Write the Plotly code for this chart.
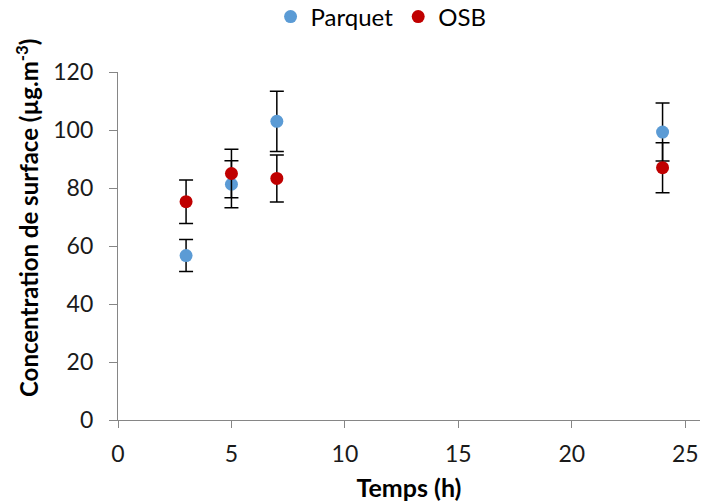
import plotly.graph_objects as go

# Data
temps = [3, 5, 7, 24]
parquet = [56.7, 81.3, 103.0, 99.3]
parquet_err = [5.5, 8.1, 10.4, 10.0]
osb = [75.3, 85.0, 83.3, 87.0]
osb_err = [7.5, 8.4, 8.1, 8.6]

series_names = ["Parquet", "OSB"]
colors = ["#5B9BD5", "#C00000"]

FONT = "Lato"

fig = go.Figure()
for name, vals, errs, col in zip(series_names, [parquet, osb], [parquet_err, osb_err], colors):
    fig.add_trace(go.Scatter(
        x=temps, y=vals, name=name, mode="markers",
        marker=dict(color=col, size=13, line=dict(width=0)),
        error_y=dict(type="data", array=errs, visible=True,
                     color="#000000", thickness=1.5, width=7),
        cliponaxis=False,
    ))

plot_w = 701 - 118 - 1
plot_h = 503 - 72 - 83

fig.update_layout(
    width=701, height=503,
    margin=dict(l=118, r=1, t=72, b=83, autoexpand=False),
    paper_bgcolor="white", plot_bgcolor="white",
    font=dict(family=FONT, size=23, color="#000000"),
    showlegend=True,
    legend=dict(orientation="h", x=0.452, xanchor="center",
                y=(503 - 17) / 503, yref="container", yanchor="middle",
                font=dict(size=24, family=FONT, color="#000000"),
                itemwidth=30, tracegroupgap=0, bgcolor="rgba(0,0,0,0)"),
    xaxis=dict(range=[0, 25.65], tickmode="array", tickvals=[0, 5, 10, 15, 20, 25],
               showgrid=False, zeroline=False, showline=True, linecolor="#868686",
               linewidth=1.3, ticks="outside", ticklen=7, tickcolor="#868686",
               tickwidth=1.3, tickfont=dict(size=23, color="#1a1a1a"),
               ticklabelstandoff=6,
               title=dict(text="<b>Temps (h)</b>", font=dict(size=25), standoff=13)),
    yaxis=dict(range=[0, 120], tickmode="array", tickvals=[0, 20, 40, 60, 80, 100, 120],
               showgrid=False, zeroline=False, showline=True, linecolor="#868686",
               linewidth=1.3, ticks="outside", ticklen=8, tickcolor="#868686",
               tickwidth=1.3, tickfont=dict(size=23, color="#1a1a1a"),
               ticklabelstandoff=11),
    annotations=[dict(
        text="<b>Concentration de surface (µg.m<sup>-3</sup>)</b>",
        xref="paper", yref="paper",
        x=(27 - 118) / plot_w, y=(503 - 83 - 218) / plot_h,
        xanchor="center", yanchor="middle", textangle=-90, showarrow=False,
        font=dict(size=24, family=FONT, color="#000000"),
    )],
)

fig.write_html("out.html")
